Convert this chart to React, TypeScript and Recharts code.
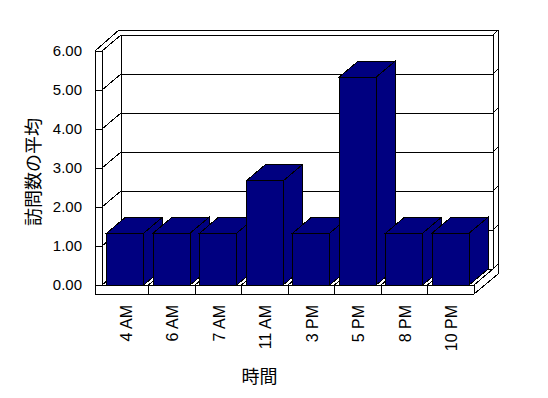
import React from "react"
import { BarChart, Bar, XAxis, YAxis, CartesianGrid, Customized } from "recharts"

const times = ["4 AM", "6 AM", "7 AM", "11 AM", "3 PM", "5 PM", "8 PM", "10 PM"]
const visits = [1.33, 1.33, 1.33, 2.67, 1.33, 5.33, 1.33, 1.33]
const yTicks = [0, 1, 2, 3, 4, 5, 6]

const data = times.map((time, i) => ({ time, value: visits[i] }))

const W = 548
const H = 398
const PLOT = { left: 102, top: 51, width: 372, height: 234 }
const DX = 19
const DY = -16
const FLOOR = 9
const WALL = 7

const BAR_COLOR = "#000080"
const LINE = "#000000"
const LATIN = "'Liberation Sans', Arial, sans-serif"
const CJK = "'Noto Sans CJK JP', sans-serif"

const R = PLOT.left + PLOT.width
const B = PLOT.top + PLOT.height

function seg(x1: number, y1: number, x2: number, y2: number, key?: string) {
  return (
    <line
      key={key}
      x1={x1}
      y1={y1}
      x2={x2}
      y2={y2}
      stroke={LINE}
      strokeWidth={1}
      shapeRendering="crispEdges"
    />
  )
}

function scaleY(yAxis: any, offset: any, t: number) {
  const s = yAxis?.scale
  if (typeof s === "function") return s(t)
  if (s && typeof s.map === "function") return s.map(t)
  const top = offset?.top ?? PLOT.top
  const height = offset?.height ?? PLOT.height
  return top + height * (1 - t / 6)
}

// gridline: front tick, left wall diagonal, back wall line, wall edge
function HLine(props: any) {
  const { x1, x2, y1 } = props
  const y = y1
  return (
    <g key={props.key ?? `h-${y}`}>
      {seg(x1 - WALL, y, x1, y)}
      {seg(x1, y, x1 + DX, y + DY)}
      {seg(x1 + DX, y + DY, x2 + DX, y + DY)}
      {seg(x2 + DX, y + DY, x2 + DX + 5, y + DY - 5)}
    </g>
  )
}

// category boundaries on the floor
function VLine(props: any) {
  const { x1, y2 } = props
  const x = x1
  const isLeft = Math.abs(x - PLOT.left) < 1
  return (
    <g key={props.key ?? `v-${x}`}>
      {!isLeft && seg(x, y2, x, y2 + FLOOR)}
      {seg(x, y2, x + DX, y2 + DY)}
    </g>
  )
}

function Frame() {
  const L = PLOT.left
  const T = PLOT.top
  return (
    <g>
      {seg(L - WALL, T, L - WALL, B + FLOOR)}
      {seg(L, T, L, B)}
      {seg(L - WALL, T, L, T)}
      {seg(L - WALL, B + FLOOR, R, B + FLOOR)}
      {seg(L, B, R, B)}
      {seg(R, B, R, B + FLOOR)}
      {seg(R, B + FLOOR, R + DX + 5, B + DY + 5)}
      {seg(L - WALL, T, L + DX - 2, T + DY - 5)}
      {seg(L + DX - 2, T + DY - 5, R + DX + 5, T + DY - 5)}
      {seg(R + DX + 5, T + DY - 5, R + DX + 5, B + DY + 5)}
      {seg(L + DX, T + DY, L + DX, B + DY)}
      {seg(R + DX, T + DY, R + DX, B + DY)}
      <text
        x={32}
        y={172}
        transform="rotate(-90, 32, 172)"
        textAnchor="middle"
        dominantBaseline="central"
        fontFamily={CJK}
        fontSize={18}
        fill="#000"
      >
        訪問数の平均
      </text>
      <text
        x={259.5}
        y={375}
        textAnchor="middle"
        dominantBaseline="central"
        fontFamily={CJK}
        fontSize={18}
        fill="#000"
      >
        時間
      </text>
    </g>
  )
}

function Bar3D(props: any) {
  const { x, y, width, height, fill } = props
  if (width == null || height == null) return null
  const front = `M${x},${y}h${width}v${height}h${-width}Z`
  const top = `M${x},${y}L${x + DX},${y + DY}L${x + width + DX},${y + DY}L${x + width},${y}Z`
  const side = `M${x + width},${y}L${x + width + DX},${y + DY}L${x + width + DX},${y + height + DY}L${x + width},${y + height}Z`
  return (
    <g shapeRendering="crispEdges">
      <path d={side} fill={fill} stroke={LINE} strokeWidth={1} />
      <path d={top} fill={fill} stroke={LINE} strokeWidth={1} />
      <path d={front} fill={fill} stroke={LINE} strokeWidth={1} />
    </g>
  )
}

function TimeTick(props: any) {
  const { x, y, payload } = props
  const tx = x + 1
  const ty = y + 20
  return (
    <text
      x={tx}
      y={ty}
      transform={`rotate(-90, ${tx}, ${ty})`}
      textAnchor="end"
      dy="0.35em"
      fontFamily={LATIN}
      fontSize={16}
      fill="#000"
    >
      {payload.value}
    </text>
  )
}

export default function App() {
  return (
    <div style={{ position: "absolute", left: 0, top: 0, width: W, height: H, background: "#fff" }}>
      <BarChart
        width={W}
        height={H}
        data={data}
        barCategoryGap="10%"
        margin={{ top: PLOT.top, right: W - R, bottom: 0, left: 0 }}
      >
        <CartesianGrid
          fill="none"
          horizontal={HLine}
          vertical={VLine}
          horizontalCoordinatesGenerator={({ yAxis, offset }: any) =>
            yTicks.map((t) => scaleY(yAxis, offset, t))
          }
          verticalCoordinatesGenerator={({ offset }: any) => {
            const left = offset?.left ?? PLOT.left
            const width = offset?.width ?? PLOT.width
            const pts = times.map((_, i) => left + (i * width) / times.length)
            pts.push(left + width)
            return pts
          }}
        />
        <Customized component={<Frame />} />
        <XAxis
          dataKey="time"
          interval={0}
          height={H - B}
          axisLine={false}
          tickLine={false}
          tickSize={0}
          tickMargin={0}
          tick={<TimeTick />}
        />
        <YAxis
          width={PLOT.left}
          domain={[0, 6]}
          ticks={yTicks}
          axisLine={false}
          tickLine={false}
          tickSize={0}
          tickMargin={20}
          tickFormatter={(v: number) => v.toFixed(2)}
          tick={{ fill: "#000", fontSize: 15, fontFamily: LATIN }}
        />
        <Bar
          dataKey="value"
          fill={BAR_COLOR}
          shape={<Bar3D />}
          isAnimationActive={false}
        />
      </BarChart>
    </div>
  )
}
